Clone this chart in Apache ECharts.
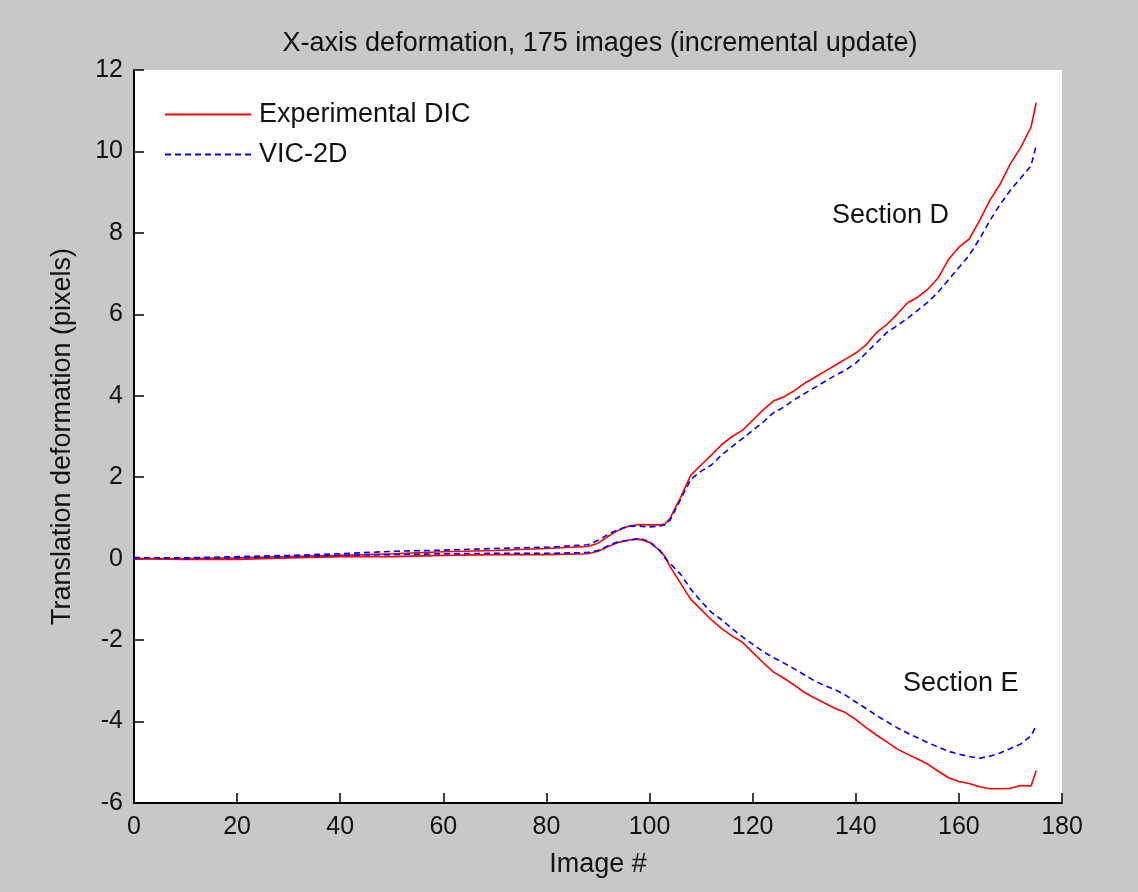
<!DOCTYPE html>
<html>
<head>
<meta charset="utf-8">
<script src="https://cdn.jsdelivr.net/npm/echarts@6/dist/echarts.min.js"></script>
<style>
  html, body { margin: 0; padding: 0; background: #c8c8c8; }
  #chart { width: 1138px; height: 892px; }
</style>
</head>
<body>
<div id="chart"></div>
<script>
// image numbers shared by all four curves
const imageNo = [0, 10, 20, 30, 40, 50, 60, 70, 80, 88,
    90, 92, 94, 96, 98, 100, 102, 103, 104, 106, 108, 110,
    112, 114, 116, 118, 120, 122, 124, 126, 128, 130, 132, 134, 136, 138, 140,
    142, 144, 146, 148, 150, 152, 154, 156, 158, 160, 162, 164, 166, 168, 170,
    172, 174, 175];

// Section D (upper branch)
const dicD = [0, 0, 0.02, 0.05, 0.08, 0.12, 0.17, 0.2, 0.25, 0.3,
    0.38, 0.55, 0.7, 0.8, 0.84, 0.83, 0.83, 0.85, 1.0, 1.5, 2.05, 2.3,
    2.55, 2.8, 3.0, 3.15, 3.4, 3.65, 3.87, 3.97, 4.12, 4.3, 4.45, 4.6, 4.75, 4.9, 5.05,
    5.25, 5.55, 5.75, 6.0, 6.28, 6.42, 6.62, 6.9, 7.35, 7.65, 7.85, 8.3, 8.8, 9.2, 9.7,
    10.1, 10.6, 11.2];
const vicD = [0.02, 0.02, 0.05, 0.08, 0.12, 0.18, 0.21, 0.25, 0.28, 0.34,
    0.45, 0.6, 0.72, 0.8, 0.8, 0.78, 0.8, 0.83, 0.95, 1.45, 1.95, 2.15,
    2.3, 2.55, 2.75, 2.95, 3.15, 3.35, 3.58, 3.72, 3.9, 4.05, 4.2, 4.35, 4.5, 4.63, 4.8,
    5.05, 5.3, 5.55, 5.72, 5.9, 6.1, 6.3, 6.55, 6.85, 7.15, 7.45, 7.85, 8.3, 8.7, 9.05,
    9.35, 9.65, 10.15];

// Section E (lower branch)
const dicE = [0, -0.02, -0.02, 0.02, 0.05, 0.05, 0.08, 0.1, 0.1, 0.12,
    0.18, 0.3, 0.4, 0.46, 0.48, 0.4, 0.2, 0.05, -0.2, -0.6, -1.0, -1.25,
    -1.5, -1.72, -1.9, -2.05, -2.3, -2.55, -2.78, -2.93, -3.1, -3.28, -3.42, -3.55, -3.68, -3.78, -3.95,
    -4.15, -4.33, -4.5, -4.67, -4.8, -4.92, -5.05, -5.22, -5.38, -5.47, -5.52, -5.6, -5.65, -5.65, -5.64,
    -5.57, -5.58, -5.2];
const vicE = [0.03, 0.0, 0.02, 0.05, 0.08, 0.1, 0.12, 0.13, 0.13, 0.15,
    0.2, 0.32, 0.42, 0.45, 0.5, 0.42, 0.2, 0.02, -0.12, -0.38, -0.75, -1.05,
    -1.32, -1.5, -1.72, -1.92, -2.1, -2.28, -2.43, -2.56, -2.7, -2.85, -3.0, -3.12, -3.22, -3.35, -3.52,
    -3.68, -3.85, -4.0, -4.15, -4.28, -4.4, -4.52, -4.63, -4.73, -4.8, -4.86, -4.9, -4.85, -4.77, -4.66,
    -4.55, -4.35, -4.1];

const FONT = '"Liberation Sans", Arial, sans-serif';
const INK = '#111';
const pairs = ys => imageNo.map((x, i) => [x, ys[i]]);

const solid = { color: '#ff0000', width: 1.6, type: 'solid' };
const dashed = { color: '#0000ff', width: 1.6, type: [6, 4] };

function lineSeries(name, ys, style) {
    return {
        name, type: 'line', data: pairs(ys),
        symbol: 'none', showSymbol: false,
        lineStyle: style, itemStyle: { color: style.color },
        animation: false, z: style.type === 'solid' ? 2 : 3,
    };
}

const chart = echarts.init(document.getElementById('chart'));
chart.setOption({
    backgroundColor: '#c8c8c8',
    textStyle: { fontFamily: FONT },
    title: {
        text: 'X-axis deformation, 175 images (incremental update)',
        left: 595, top: 25, textAlign: 'center',
        textStyle: { fontFamily: FONT, fontSize: 27, fontWeight: 'normal', color: INK },
    },
    legend: {
        orient: 'vertical', left: 159, top: 96, itemGap: 13,
        itemWidth: 86, itemHeight: 14, padding: 5,
        itemStyle: { color: 'transparent', borderWidth: 0, opacity: 0 },
        textStyle: { fontFamily: FONT, fontSize: 27, lineHeight: 27, color: INK, padding: [0, 0, 0, 3] },
        data: ['Experimental DIC', 'VIC-2D'],
    },
    grid: {
        left: 134, right: 76, top: 70, bottom: 89,
        show: true, backgroundColor: '#ffffff', borderWidth: 0,
    },
    xAxis: {
        type: 'value', min: 0, max: 180, interval: 20,
        name: 'Image #', nameLocation: 'middle', nameGap: 48,
        nameTextStyle: { fontFamily: FONT, fontSize: 27, color: INK },
        axisLine: { onZero: false, lineStyle: { color: '#000', width: 2 } },
        axisTick: { inside: true, length: 10, lineStyle: { color: '#000', width: 1.5 } },
        axisLabel: { fontFamily: FONT, fontSize: 25, color: INK, margin: 12 },
        splitLine: { show: false },
    },
    yAxis: {
        type: 'value', min: -6, max: 12, interval: 2,
        name: 'Translation deformation (pixels)', nameLocation: 'middle', nameGap: 58,
        nameTextStyle: { fontFamily: FONT, fontSize: 27, color: INK },
        axisLine: { show: true, onZero: false, lineStyle: { color: '#000', width: 2 } },
        axisTick: { show: true, inside: true, length: 10, lineStyle: { color: '#000', width: 1.5 } },
        axisLabel: { fontFamily: FONT, fontSize: 25, color: INK, margin: 11 },
        splitLine: { show: false },
    },
    graphic: [
        { type: 'text', left: 832, top: 202, style: { text: 'Section D', font: '27px ' + FONT, fill: INK } },
        { type: 'text', left: 903, top: 670, style: { text: 'Section E', font: '27px ' + FONT, fill: INK } },
    ],
    series: [
        lineSeries('Experimental DIC', dicD, solid),
        lineSeries('VIC-2D', vicD, dashed),
        lineSeries('Experimental DIC', dicE, solid),
        lineSeries('VIC-2D', vicE, dashed),
    ],
});
</script>
</body>
</html>
